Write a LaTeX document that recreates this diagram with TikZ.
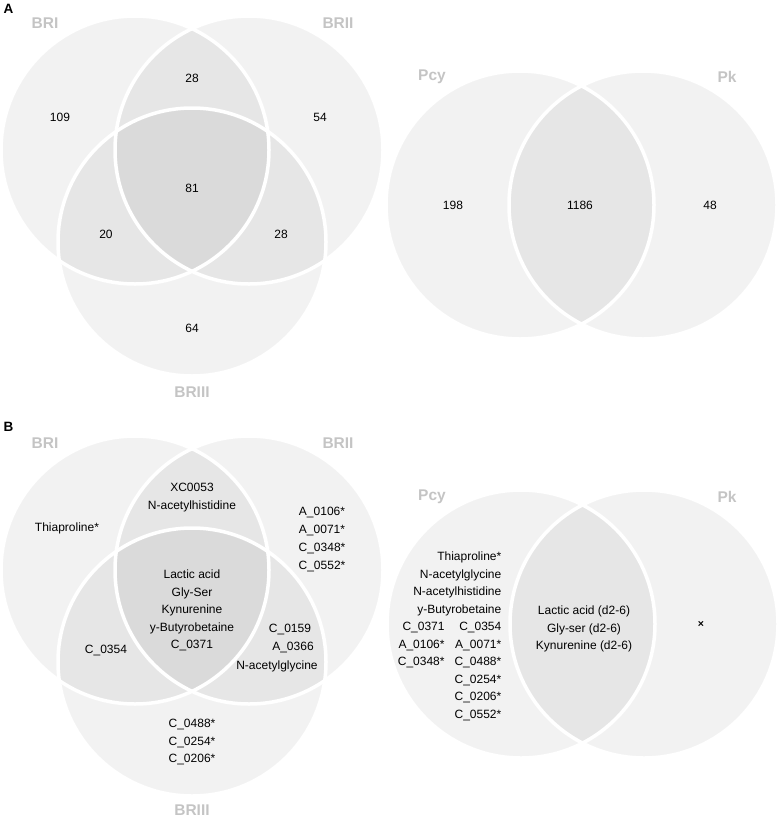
\documentclass[tikz,border=0pt]{standalone}
\usepackage{fontspec}
\setmainfont{Liberation Sans}
\definecolor{lbl}{RGB}{196,196,196}
\tikzset{
  venn/.style={fill=black, fill opacity=0.05},
  rim/.style={draw=white, line width=3.5pt},
  setlbl/.style={font=\fontsize{15.5}{18}\selectfont\bfseries, text=lbl, inner sep=0pt},
  txt/.style={font=\fontsize{12}{17.5}\selectfont, align=center, inner sep=0pt},
  panel/.style={font=\fontsize{13.5}{16}\selectfont\bfseries, inner sep=0pt},
}
\begin{document}
\begin{tikzpicture}[x=1pt,y=-1pt]
\useasboundingbox (0,0) rectangle (777,819);
% circle fills
\foreach \cx/\cy in {135/150, 249/150, 192/242, 520/205, 643/205,
                     135/570, 249/570, 192/662, 521/624, 644/624}
  \fill[venn] (\cx,\cy) circle[radius=134pt];
% white rims
\foreach \cx/\cy in {135/150, 249/150, 192/242, 520/205, 643/205,
                     135/570, 249/570, 192/662, 521/624, 644/624}
  \draw[rim] (\cx,\cy) circle[radius=134pt];

% panel letters
\node[panel] (pA) at (8.5,9) {A};
\node[panel] (pB) at (8.5,427) {B};

% ---------- Panel A ----------
\node[setlbl] (aBRI)   at (45,23)  {BRI};
\node[setlbl] (aBRII)  at (338,23) {BRII};
\node[setlbl] (aBRIII) at (192,392) {BRIII};
\node[setlbl] (aPcy)   at (432,77) {Pcy};
\node[setlbl] (aPk)    at (727,77) {Pk};

\node[txt] (a12)  at (192,78)  {28};
\node[txt] (a1)   at (60,117)  {109};
\node[txt] (a2)   at (320,117) {54};
\node[txt] (a123) at (192,188) {81};
\node[txt] (a13)  at (106,234) {20};
\node[txt] (a23)  at (281,234) {28};
\node[txt] (a3)   at (192,328) {64};
\node[txt] (aP)   at (453,205) {198};
\node[txt] (aPP)  at (580,205) {1186};
\node[txt] (aK)   at (710,205) {48};

% ---------- Panel B ----------
\node[setlbl] (bBRI)   at (45,443)  {BRI};
\node[setlbl] (bBRII)  at (338,443) {BRII};
\node[setlbl] (bBRIII) at (192,810) {BRIII};
\node[setlbl] (bPcy)   at (432,497) {Pcy};
\node[setlbl] (bPk)    at (727,497) {Pk};

\node[txt] (b12) at (192,497.5) {XC0053\\N-acetylhistidine};
\node[txt] (b1)  at (67,528) {Thiaproline*};
\node[txt, font=\fontsize{12}{18}\selectfont] (b2) at (322,539) {A\_0106*\\A\_0071*\\C\_0348*\\C\_0552*};
\node[txt] (b123) at (192,610.5) {Lactic acid\\Gly-Ser\\Kynurenine\\y-Butyrobetaine\\C\_0371};
\node[txt] (b13) at (106,650) {C\_0354};
\node[txt] (b23a) at (290,629) {C\_0159};
\node[txt] (b23b) at (293,647) {A\_0366};
\node[txt] (b23c) at (277,666) {N-acetylglycine};
\node[txt] (b3) at (192,742) {C\_0488*\\C\_0254*\\C\_0206*};

\node[txt, anchor=east] (bP) at (501.5,636) {%
  \renewcommand{\arraystretch}{1}%
  \begin{tabular}{@{}r@{\hspace{10pt}}r@{}}
  \multicolumn{2}{@{}r@{}}{Thiaproline*}\\
  \multicolumn{2}{@{}r@{}}{N-acetylglycine}\\
  \multicolumn{2}{@{}r@{}}{N-acetylhistidine}\\
  \multicolumn{2}{@{}r@{}}{y-Butyrobetaine}\\
  C\_0371 & C\_0354\\
  A\_0106* & A\_0071*\\
  C\_0348* & C\_0488*\\
   & C\_0254*\\
   & C\_0206*\\
   & C\_0552*
  \end{tabular}};
\node[txt] (bPP) at (584,629) {Lactic acid (d2-6)\\Gly-ser (d2-6)\\Kynurenine (d2-6)};
\node[txt, font=\fontsize{10.5}{12}\selectfont\bfseries] (bK) at (701,624) {×};
\end{tikzpicture}
\end{document}
